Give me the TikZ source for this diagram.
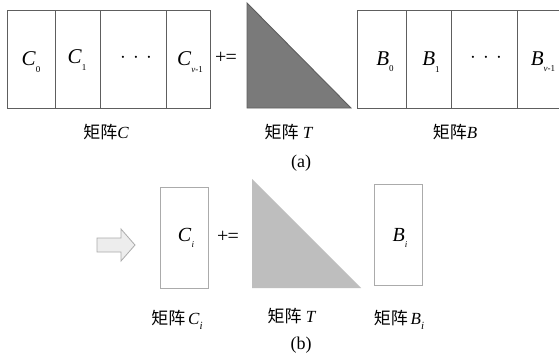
\documentclass[tikz,border=0pt]{standalone}
\usepackage{fontspec}
\setmainfont{Liberation Serif}
\newfontfamily\cjk{Noto Sans CJK SC}
\newcommand{\msub}[3]{\textit{#1}\raisebox{-#3}{\fontsize{9}{9}\selectfont #2}}
\definecolor{edgeA}{HTML}{5E5E5E}
\definecolor{edgeB}{HTML}{ABABAB}
\definecolor{triA}{HTML}{7A7A7A}
\definecolor{triB}{HTML}{BEBEBE}
\definecolor{arrowfill}{HTML}{EDEDED}
\tikzset{
  boxA/.style={draw=edgeA, line width=0.9pt},
  boxB/.style={draw=edgeB, line width=0.9pt},
  celltext/.style={font=\fontsize{21}{21}\selectfont, inner sep=0pt},
  captext/.style={font=\fontsize{17}{17}\selectfont, inner sep=0pt, anchor=base},
  optext/.style={font=\fontsize{20}{20}\selectfont, inner sep=0pt},
}
\begin{document}
\begin{tikzpicture}[x=1pt,y=-1pt]
\clip (0,0) rectangle (559,356);
\fill[white] (0,0) rectangle (559,356);

% ---------- (a) ----------
% matrix C
\draw[boxA] (7,10) rectangle (210,108);
\draw[boxA] (55,10) -- (55,108);
\draw[boxA] (100,10) -- (100,108);
\draw[boxA] (166,10) -- (166,108);
\node[celltext] (c0) at (31,62) {\msub{C}{0}{0.3em}};
\node[celltext] (c1) at (77,60) {\msub{C}{1}{0.3em}};
\node[celltext] (cd) at (136,58) {$\cdot$\hspace{0.35em}$\cdot$\hspace{0.35em}$\cdot$};
\node[celltext] (cv) at (190,62) {\msub{C}{\textit{v}-1}{0.3em}};
\node[optext] (pa) at (226,58) {+\kern-0.05em=};
% triangle T
\draw[edgeA, fill=triA, line width=0.9pt] (247,3) -- (247,108) -- (351,108) -- cycle;
% matrix B
\draw[boxA] (357,10) -- (575,10);
\draw[boxA] (357,108) -- (575,108);
\draw[boxA] (357,10) -- (357,108);
\draw[boxA] (406,10) -- (406,108);
\draw[boxA] (451,10) -- (451,108);
\draw[boxA] (517,10) -- (517,108);
\node[celltext] (b0) at (385,62) {\msub{B}{0}{0.3em}};
\node[celltext] (b1) at (431,62) {\msub{B}{1}{0.3em}};
\node[celltext] (bd) at (486,58) {$\cdot$\hspace{0.35em}$\cdot$\hspace{0.35em}$\cdot$};
\node[celltext] (bv) at (543,62) {\msub{B}{\textit{v}-1}{0.3em}};
% captions
\node[captext] (lc) at (106,138) {{\cjk 矩阵}\textit{C}};
\node[captext] (lt) at (289,138) {{\cjk 矩阵} \textit{T}};
\node[captext] (lb) at (455,138) {{\cjk 矩阵}\textit{B}};
\node[captext, font=\fontsize{18}{18}\selectfont] (la) at (301,167) {(a)};

% ---------- (b) ----------
\draw[edgeB, fill=arrowfill, line width=0.8pt]
  (97,238) -- (121,238) -- (121,229) -- (135,245) -- (121,261) -- (121,252) -- (97,252) -- cycle;
\draw[boxB] (160,187) rectangle (208,288);
\node[celltext, font=\fontsize{20}{20}\selectfont] (ci) at (186,238) {\msub{C}{\textit{i}}{0.3em}};
\node[optext] (pb) at (228,237) {+\kern-0.05em=};
\fill[triB] (252,179) -- (252,288) -- (361,288) -- cycle;
\draw[boxB] (374,184) rectangle (422,285);
\node[celltext, font=\fontsize{20}{20}\selectfont] (bi) at (400,238) {\msub{B}{\textit{i}}{0.3em}};
% captions
\node[captext] (lci) at (177,324) {{\cjk 矩阵}\,\textit{C}\raisebox{-0.35em}{\fontsize{11}{11}\selectfont\textit{i}}};
\node[captext] (lt2) at (292,322) {{\cjk 矩阵} \textit{T}};
\node[captext] (lbi) at (399,324) {{\cjk 矩阵}\,\textit{B}\raisebox{-0.35em}{\fontsize{11}{11}\selectfont\textit{i}}};
\node[captext, font=\fontsize{18}{18}\selectfont] (lbb) at (301,349) {(b)};
\end{tikzpicture}
\end{document}
